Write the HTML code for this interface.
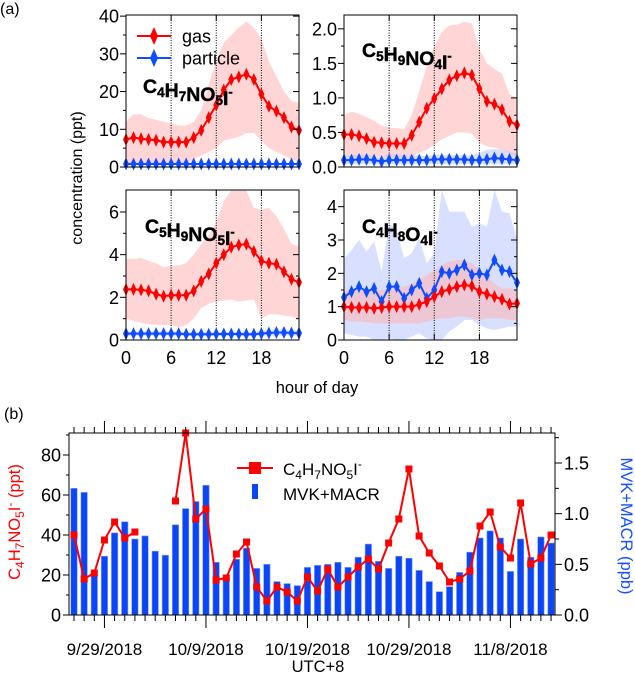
<!DOCTYPE html>
<html><head><meta charset="utf-8"><style>
html,body{margin:0;padding:0;background:#fff;}
svg{display:block;font-family:"Liberation Sans",Arial,sans-serif;}
</style></head><body>
<svg id="fig" width="635" height="677" viewBox="0 0 635 677" xmlns="http://www.w3.org/2000/svg">
<text x="0" y="14" font-size="16">(a)</text>
<text x="4" y="419" font-size="16">(b)</text>
<text transform="translate(82,178) rotate(-90)" text-anchor="middle" font-size="16">concentration (ppt)</text>
<text x="317" y="393" text-anchor="middle" font-size="16.5">hour of day</text>
<text x="318" y="672" text-anchor="middle" font-size="16.5">UTC+8</text>
<text transform="translate(20,522) rotate(-90)" text-anchor="middle" font-size="16.5" fill="#ff0000">C<tspan font-size="12" dy="4">4</tspan><tspan dy="-4">H</tspan><tspan font-size="12" dy="4">7</tspan><tspan dy="-4">NO</tspan><tspan font-size="12" dy="4">5</tspan><tspan dy="-4">I</tspan><tspan font-size="12" dy="-6">-</tspan><tspan dy="6"> (ppt)</tspan></text>
<text transform="translate(621,526) rotate(90)" text-anchor="middle" font-size="16.5" fill="#1450ff">MVK+MACR (ppb)</text>
</svg>
<script>
// ---------- Panel (a) data ----------
const hours = [0,1,2,3,4,5,6,7,8,9,10,11,12,13,14,15,16,17,18,19,20,21,22,23];
const p1Gas = [7.3,7.8,7.5,7.3,7.1,6.6,6.6,6.6,6.6,7.8,9.7,13.1,16.4,20.4,23.2,23.9,24.6,23.2,19.3,16.1,14.8,13.1,10.6,9.7];
const p1GasHi = [12,14,14,13,12.5,12,11.5,11,11,12,15,22,28,33,35,37,38.5,37,34,28,24,20,17.5,17];
const p1GasLo = [1,1,1,1,1,1,1,1,1,2,3,4,5,7,7.5,8,9,9,7,5,4,3,2,1.5];
const p1Par = [0.8,0.8,0.8,0.8,0.8,0.8,0.8,0.8,0.8,0.8,0.8,0.8,0.8,0.8,0.8,0.8,0.8,0.8,0.8,0.8,0.8,0.8,0.8,0.8];
const p1ParHi = [1.1,1.1,1.1,1.1,1.1,1.1,1.1,1.1,1.1,1.1,1.1,1.1,1.1,1.1,1.1,1.1,1.1,1.1,1.1,1.1,1.1,1.1,1.1,1.1];
const p1ParLo = [0.5,0.5,0.5,0.5,0.5,0.5,0.5,0.5,0.5,0.5,0.5,0.5,0.5,0.5,0.5,0.5,0.5,0.5,0.5,0.5,0.5,0.5,0.5,0.5];
const p1Ticks = [0,10,20,30,40];

const p2Gas = [0.47,0.47,0.45,0.41,0.36,0.35,0.34,0.34,0.34,0.46,0.65,0.85,0.99,1.13,1.26,1.32,1.36,1.33,1.13,0.95,0.91,0.83,0.66,0.61];
const p2GasHi = [0.75,0.8,0.77,0.72,0.67,0.6,0.57,0.56,0.55,0.75,1.1,1.45,1.75,1.95,2.05,2.06,2.1,2.08,1.7,1.5,1.42,1.35,1.05,1.0];
const p2GasLo = [0.15,0.15,0.15,0.15,0.15,0.15,0.15,0.15,0.15,0.15,0.2,0.25,0.32,0.4,0.45,0.5,0.5,0.48,0.35,0.3,0.28,0.25,0.2,0.15];
const p2Par = [0.1,0.1,0.11,0.11,0.1,0.08,0.1,0.1,0.1,0.1,0.1,0.1,0.11,0.11,0.11,0.11,0.11,0.1,0.1,0.11,0.13,0.12,0.11,0.1];
const p2ParHi = [0.17,0.17,0.18,0.18,0.16,0.14,0.2,0.18,0.17,0.17,0.17,0.16,0.18,0.18,0.18,0.17,0.17,0.17,0.2,0.25,0.26,0.25,0.22,0.2];
const p2ParLo = [0.04,0.04,0.04,0.04,0.04,0.03,0.04,0.04,0.04,0.04,0.04,0.04,0.04,0.04,0.04,0.04,0.04,0.04,0.04,0.04,0.04,0.04,0.04,0.04];
const p2Ticks = [0,0.5,1.0,1.5,2.0];

const p3Gas = [2.37,2.37,2.35,2.3,2.15,2.05,2.1,2.1,2.1,2.3,2.75,3.1,3.6,4.0,4.35,4.45,4.5,4.15,3.7,3.6,3.55,3.2,2.85,2.7];
const p3GasHi = [3.8,3.8,3.85,3.7,3.6,3.4,3.5,3.5,3.6,4.0,4.5,4.9,5.5,6.5,7,7,7,6.2,6.1,6.2,5.8,5.2,4.5,4.4];
const p3GasLo = [1.0,0.9,0.8,0.75,0.7,0.7,0.7,0.6,0.7,1.0,1.5,1.7,1.8,1.85,1.9,1.8,1.85,1.9,1.0,1.2,1.2,1.15,1.1,1.0];
const p3Par = [0.3,0.3,0.3,0.3,0.3,0.3,0.3,0.3,0.27,0.27,0.27,0.27,0.28,0.28,0.28,0.28,0.27,0.27,0.3,0.33,0.35,0.35,0.33,0.32];
const p3ParHi = [0.4,0.4,0.4,0.4,0.4,0.4,0.4,0.4,0.38,0.38,0.38,0.38,0.38,0.38,0.38,0.38,0.38,0.38,0.42,0.48,0.5,0.5,0.46,0.45];
const p3ParLo = [0.2,0.2,0.2,0.2,0.2,0.2,0.2,0.2,0.18,0.18,0.18,0.18,0.18,0.18,0.18,0.18,0.18,0.18,0.2,0.2,0.2,0.2,0.2,0.2];
const p3Ticks = [0,2,4,6];

const p4Gas = [1.0,0.98,0.97,0.98,0.95,0.97,1.0,1.0,1.0,1.0,1.07,1.15,1.3,1.45,1.52,1.6,1.65,1.62,1.45,1.38,1.3,1.22,1.08,1.1];
const p4GasHi = [1.5,1.45,1.45,1.5,1.5,1.5,1.55,1.55,1.6,1.7,1.8,1.95,2.1,2.25,2.35,2.4,2.4,2.3,2.1,1.9,1.7,1.55,1.55,1.5];
const p4GasLo = [0.6,0.55,0.55,0.53,0.5,0.5,0.5,0.5,0.5,0.5,0.5,0.55,0.6,0.65,0.65,0.7,0.7,0.65,0.6,0.65,0.65,0.65,0.6,0.6];
const p4Par = [1.28,1.45,1.6,1.45,1.55,1.15,1.6,1.6,1.25,1.5,1.7,1.25,1.5,2.05,2.0,2.1,2.25,1.95,2.0,1.95,2.4,2.1,2.05,1.72];
const p4ParHi = [2.45,2.7,3.0,2.65,2.95,2.05,3.5,3.3,2.45,2.6,3.05,2.3,2.6,4.5,3.85,3.85,3.85,3.4,3.5,3.4,4.5,3.85,3.8,3.05];
const p4ParLo = [0.2,0.15,0.1,0.1,0.0,0.0,0.05,0.0,0.0,0.1,0.2,0.05,0.0,0.0,0.25,0.4,0.6,0.6,0.45,0.35,0.3,0.35,0.4,0.4];
const p4Ticks = [0,1,2,3,4];
const hourTicks = [0,6,12,18];

// ---------- Panel (b) data ----------
const dayIndex = [0,1,2,3,4,5,6,7,8,9,10,11,12,13,14,15,16,17,18,19,20,21,22,23,24,25,26,27,28,29,30,31,32,33,34,35,36,37,38,39,40,41,42,43,44,45,46,47];
const mvkMacr = [1.25,1.21,0.40,0.58,0.81,0.92,0.75,0.78,0.63,0.59,0.89,1.05,1.12,1.28,0.52,0.36,0.55,0.66,0.46,0.50,0.33,0.31,0.29,0.47,0.49,0.50,0.52,0.47,0.57,0.70,0.53,0.46,0.58,0.56,0.44,0.33,0.23,0.28,0.42,0.62,0.76,0.83,0.76,0.43,0.75,0.57,0.77,0.71];
const c4Daily = [40,18,21,37.5,46.5,38.5,41.5,null,null,null,57,91,48,53,17.5,18.5,30.5,36.5,14,7,14,11.5,7,19,12,23,14,19,24,28,23,36,48,73,39.5,31,24.5,16.5,18,22,44.5,51.5,34,28.5,56,25.5,28.5,40];
const dateLabels = ['9/29/2018','10/9/2018','10/19/2018','10/29/2018','11/8/2018'];
const dateLabelDays = [3,13,23,33,43];
const leftTicks = [0,20,40,60,80];
const rightTicks = [0.0,0.5,1.0,1.5];

const NS = 'http://www.w3.org/2000/svg';
const svg = document.getElementById('fig');
function mk(tag, attrs, parent) {
  const e = document.createElementNS(NS, tag);
  for (const k in attrs) e.setAttribute(k, attrs[k]);
  (parent || svg).appendChild(e);
  return e;
}
const RED = '#ff0000', BLUE = '#0f4cff';

function diamondPath(x, y) { return `M${x},${y-6.5}L${x+3},${y}L${x},${y+6.5}L${x-3},${y}Z`; }

function panelA(cfg) {
  const {x0, x1, y0, y1, ymax, ticks, fmt, minor, series, name} = cfg;
  const g = mk('g', {});
  
  
  const sx = h => x0 + (x1 - x0) * h / 23;
  const sy = v => y0 - (y0 - y1) * Math.min(v, ymax) / ymax;
  series.forEach(s => {
    let d = '';
    hours.forEach((h, i) => { d += (i ? 'L' : 'M') + sx(h) + ',' + sy(s.hi[i]); });
    for (let i = hours.length - 1; i >= 0; i--) d += 'L' + sx(hours[i]) + ',' + sy(s.lo[i]);
    const b = mk('path', {d: d + 'Z', fill: s.band, 'fill-opacity': s.op}, g);
    
    
  });
  [6, 12, 18].forEach(h => {
    const l = mk('line', {x1: sx(h), x2: sx(h), y1: y1, y2: y0, stroke: '#000', 'stroke-width': 1, 'stroke-dasharray': '1,1.5'}, g);
    
    
    mk('line', {x1: sx(h), x2: sx(h), y1: y1, y2: y1 + 6, stroke: '#000'}, g);
    mk('line', {x1: sx(h), x2: sx(h), y1: y0, y2: y0 - 6, stroke: '#000'}, g);
  });
  series.forEach(s => {
    const pts = hours.map((h, i) => sx(h) + ',' + sy(s.v[i])).join(' ');
    const pl = mk('polyline', {points: pts, fill: 'none', stroke: s.color, 'stroke-width': 2}, g);
    
    
    hours.forEach((h, i) => {
      const m = mk('path', {d: diamondPath(sx(h), sy(s.v[i])), fill: s.color}, g);
      
      
    });
  });
  const r = mk('rect', {x: x0, y: y1, width: x1 - x0, height: y0 - y1, fill: 'none', stroke: '#000', 'stroke-width': 1}, g);
  
  
  ticks.forEach(t => {
    const y = sy(t);
    mk('line', {x1: x0 - 6, x2: x0, y1: y, y2: y, stroke: '#000'}, g);
    mk('line', {x1: x1 - 6, x2: x1, y1: y, y2: y, stroke: '#000'}, g);
    const tx = mk('text', {x: x0 - 7, y: y + 6.5, 'text-anchor': 'end', 'font-size': 18}, g);
    tx.textContent = fmt(t);
    
    
  });
  if (minor) ticks.slice(0, -1).forEach(t => {
    const y = sy(t + minor);
    if (y > y1) {
      mk('line', {x1: x0 - 3, x2: x0, y1: y, y2: y, stroke: '#000'}, g);
      mk('line', {x1: x1 - 3, x2: x1, y1: y, y2: y, stroke: '#000'}, g);
    }
  });
  if (cfg.xlabels) hourTicks.forEach(h => {
    const tx = mk('text', {x: sx(h), y: y0 + 24, 'text-anchor': 'middle', 'font-size': 18}, g);
    tx.textContent = h;
    
    
  });
  const lab = mk('text', {x: cfg.lx, y: cfg.ly, 'font-size': 19.5, 'font-weight': 'bold', stroke: '#000', 'stroke-width': 0.4}, g);
  
  
  let html = '';
  cfg.formula.forEach(([t, sub]) => { html += `<tspan>${t}</tspan><tspan font-size="13.5" dy="4">${sub}</tspan><tspan dy="-4"></tspan>`; });
  html += `<tspan>I</tspan><tspan font-size="13" dy="-9">-</tspan>`;
  lab.innerHTML = html;
}
const gasS = (v, hi, lo) => ({key: 'gas', v, hi, lo, color: RED, band: '#ffb3b3', op: 0.55});
const parS = (v, hi, lo) => ({key: 'particle', v, hi, lo, color: BLUE, band: '#aabaff', op: 0.45});

panelA({name: 'panel-c4h7no5i', x0: 126, x1: 299, y0: 167, y1: 15, ymax: 40.3, ticks: p1Ticks, fmt: t => t, minor: 5,
  series: [gasS(p1Gas, p1GasHi, p1GasLo), parS(p1Par, p1ParHi, p1ParLo)], lx: 143, ly: 93,
  formula: [['C', '4'], ['H', '7'], ['NO', '5']]});
panelA({name: 'panel-c5h9no4i', x0: 344, x1: 517, y0: 167, y1: 15, ymax: 2.2, ticks: p2Ticks, fmt: t => t.toFixed(1), minor: 0.25,
  series: [gasS(p2Gas, p2GasHi, p2GasLo), parS(p2Par, p2ParHi, p2ParLo)], lx: 362, ly: 57,
  formula: [['C', '5'], ['H', '9'], ['NO', '4']]});
panelA({name: 'panel-c5h9no5i', x0: 126, x1: 299, y0: 340, y1: 190, ymax: 7.03, ticks: p3Ticks, fmt: t => t, minor: 1, xlabels: true,
  series: [gasS(p3Gas, p3GasHi, p3GasLo), parS(p3Par, p3ParHi, p3ParLo)], lx: 145, ly: 233,
  formula: [['C', '5'], ['H', '9'], ['NO', '5']]});
panelA({name: 'panel-c4h8o4i', x0: 344, x1: 517, y0: 340, y1: 190, ymax: 4.5, ticks: p4Ticks, fmt: t => t, minor: 0.5, xlabels: true,
  series: [parS(p4Par, p4ParHi, p4ParLo), gasS(p4Gas, p4GasHi, p4GasLo)], lx: 362, ly: 233,
  formula: [['C', '4'], ['H', '8'], ['O', '4']]});

(function () {
  const g = mk('g', {});
  
  
  [['gas', RED, 36], ['particle', BLUE, 58]].forEach(([t, c, y]) => {
    const e = mk('g', {}, g);
    
    
    mk('line', {x1: 137, x2: 171, y1: y, y2: y, stroke: c, 'stroke-width': 2}, e);
    mk('path', {d: `M154,${y-9}L158,${y}L154,${y+9}L150,${y}Z`, fill: c}, e);
    const tx = mk('text', {x: 182, y: y + 6.5, 'font-size': 18}, e);
    tx.textContent = t;
  });
})();

(function () {
  const x0 = 69, x1 = 555, y0 = 615, y1 = 433;
  const dx0 = 74, dpx = 10.15;
  const sx = d => dx0 + d * dpx;
  const syL = v => y0 - v * 2;
  const syR = v => y0 - v * (152 / 1.5);
  const g = mk('g', {});
  
  
  dayIndex.forEach((d, i) => {
    const h = y0 - syR(mvkMacr[i]);
    const b = mk('rect', {x: sx(d) - 3.2, y: syR(mvkMacr[i]), width: 6.4, height: h, fill: '#0a46f5', stroke: '#7f9bff', 'stroke-width': 0.6}, g);
    
    
  });
  let segs = [], cur = [];
  dayIndex.forEach((d, i) => {
    if (c4Daily[i] == null) { if (cur.length) segs.push(cur); cur = []; }
    else cur.push(sx(d) + ',' + syL(c4Daily[i]));
  });
  if (cur.length) segs.push(cur);
  segs.forEach(s => {
    const pl = mk('polyline', {points: s.join(' '), fill: 'none', stroke: RED, 'stroke-width': 2}, g);
    
    
  });
  dayIndex.forEach((d, i) => {
    if (c4Daily[i] == null) return;
    const m = mk('rect', {x: sx(d) - 3.5, y: syL(c4Daily[i]) - 3.5, width: 7, height: 7, fill: RED}, g);
    
    
  });
  mk('rect', {x: x0, y: y1, width: x1 - x0, height: y0 - y1, fill: 'none', stroke: '#000'}, g);
  leftTicks.forEach(t => {
    mk('line', {x1: x0 - 6, x2: x0, y1: syL(t), y2: syL(t), stroke: '#000'}, g);
    const tx = mk('text', {x: x0 - 8, y: syL(t) + 6.5, 'text-anchor': 'end', 'font-size': 18}, g);
    tx.textContent = t;
    
    
  });
  for (let t = 10; t < 91; t += 20) mk('line', {x1: x0 - 3, x2: x0, y1: syL(t), y2: syL(t), stroke: '#000'}, g);
  rightTicks.forEach(t => {
    mk('line', {x1: x1, x2: x1 + 7, y1: syR(t), y2: syR(t), stroke: '#000'}, g);
    const tx = mk('text', {x: x1 + 9, y: syR(t) + 6.5, 'font-size': 18}, g);
    tx.textContent = t.toFixed(1);
    
    
  });
  for (let t = 0.25; t < 1.8; t += 0.5) mk('line', {x1: x1, x2: x1 + 4, y1: syR(t), y2: syR(t), stroke: '#000'}, g);
  for (let d = 0; d <= 47; d++) {
    const major = dateLabelDays.includes(d);
    mk('line', {x1: sx(d), x2: sx(d), y1: y0, y2: y0 + (major ? 13 : 6), stroke: '#000'}, g);
    mk('line', {x1: sx(d), x2: sx(d), y1: y1, y2: y1 - (major ? 12 : 6), stroke: '#000'}, g);
  }
  dateLabels.forEach((t, i) => {
    const tx = mk('text', {x: sx(dateLabelDays[i]), y: 655, 'text-anchor': 'middle', 'font-size': 17}, g);
    tx.textContent = t;
    
    
  });
  const lg = mk('g', {}, g);
  
  
  mk('line', {x1: 237, x2: 273, y1: 468, y2: 468, stroke: RED, 'stroke-width': 2}, lg);
  mk('rect', {x: 249, y: 462, width: 12, height: 12, fill: RED}, lg);
  const t1 = mk('text', {x: 283, y: 475, 'font-size': 17}, lg);
  t1.innerHTML = 'C<tspan font-size="12" dy="4">4</tspan><tspan dy="-4">H</tspan><tspan font-size="12" dy="4">7</tspan><tspan dy="-4">NO</tspan><tspan font-size="12" dy="4">5</tspan><tspan dy="-4">I</tspan><tspan font-size="12" dy="-7">-</tspan>';
  mk('rect', {x: 252, y: 484, width: 6, height: 15, fill: '#0a46f5'}, lg);
  const t2 = mk('text', {x: 283, y: 500, 'font-size': 17}, lg);
  t2.textContent = 'MVK+MACR';
})();
</script>
</body></html>
